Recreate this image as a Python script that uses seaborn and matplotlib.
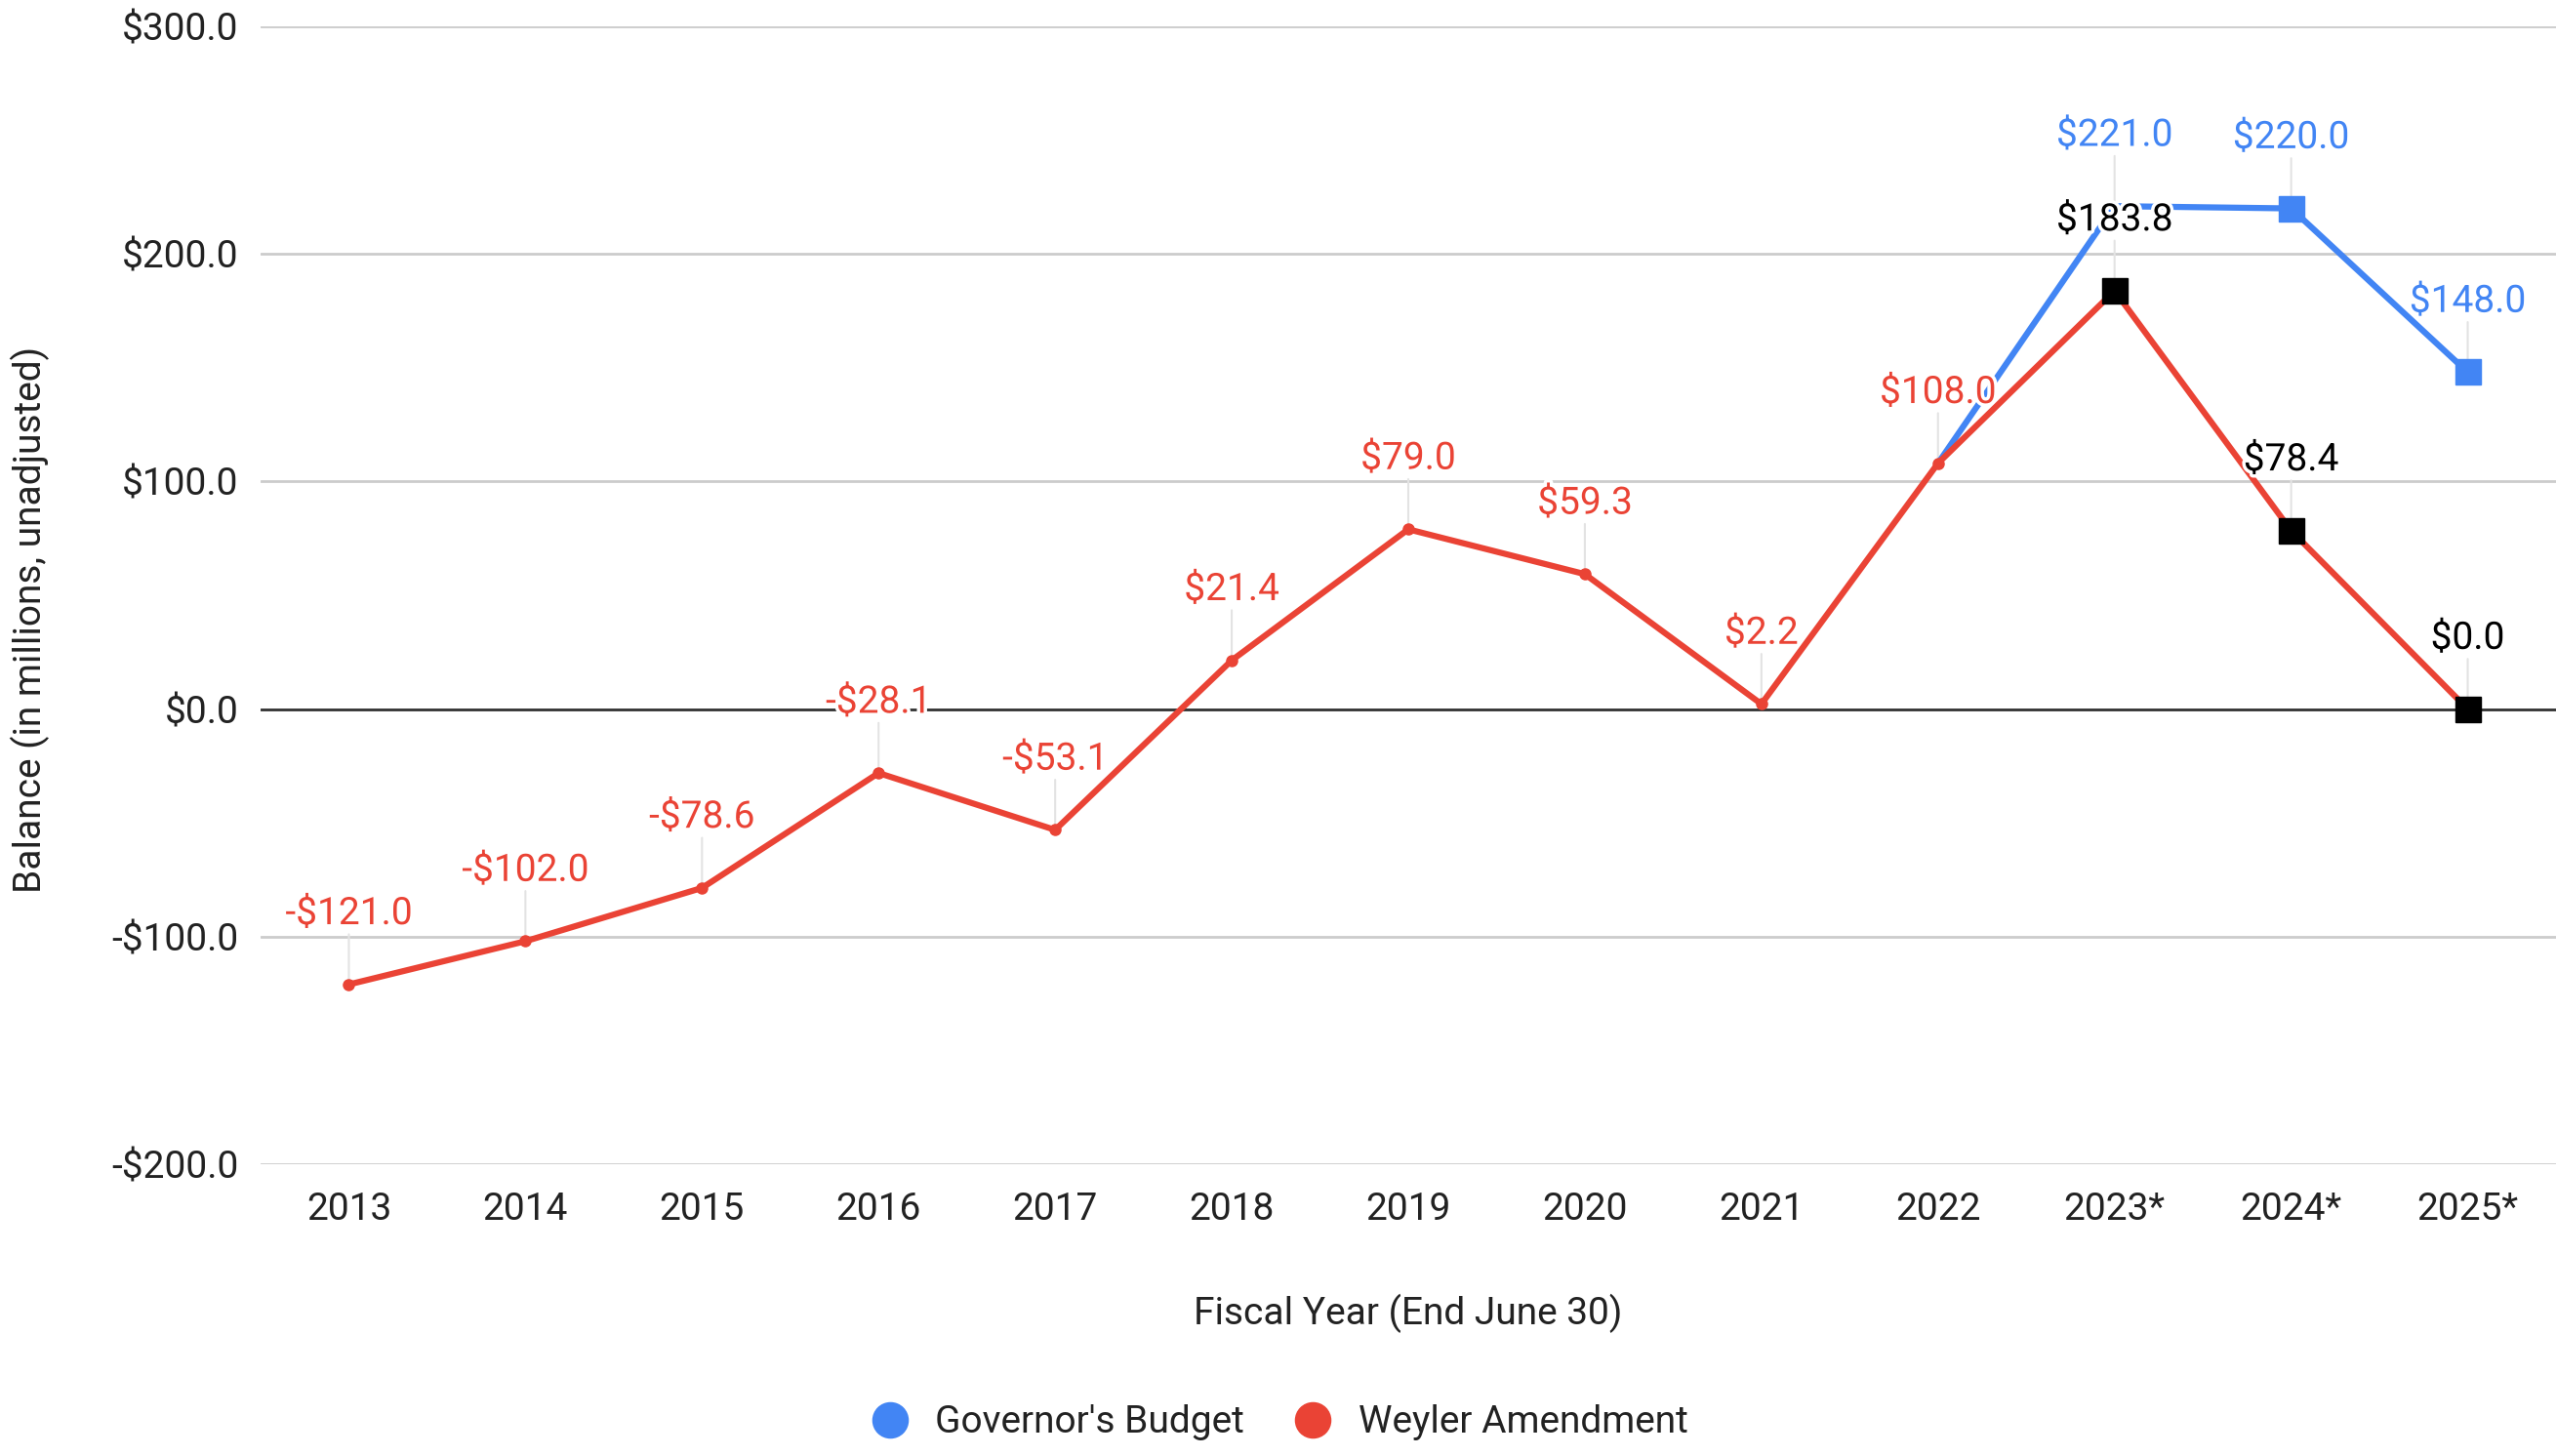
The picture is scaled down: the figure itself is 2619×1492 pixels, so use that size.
import numpy as np
import pandas as pd
import seaborn as sns
import matplotlib.pyplot as plt
import matplotlib.patheffects as pe
from matplotlib.lines import Line2D
from matplotlib.ticker import FuncFormatter

# data
years = ['2013', '2014', '2015', '2016', '2017', '2018', '2019', '2020',
         '2021', '2022', '2023*', '2024*', '2025*']
weyler = [-121.0, -102.0, -78.6, -28.1, -53.1, 21.4, 79.0, 59.3,
          2.2, 108.0, 183.8, 78.4, 0.0]
governor = [np.nan] * 9 + [108.0, 221.0, 220.0, 148.0]
projected = [False] * 10 + [True, True, True]

BLUE = '#4285F4'
RED = '#EA4335'
FS = 28

sns.set_theme(style='white')
plt.rcParams['font.family'] = ['Roboto', 'DejaVu Sans']

pos = np.arange(len(years))
df = pd.DataFrame({
    'pos': np.concatenate([pos, pos]),
    'value': governor + weyler,
    'series': ["Governor's Budget"] * len(years) + ['Weyler Amendment'] * len(years),
})
df = df.dropna()

fig = plt.figure(figsize=(26.19, 14.92), dpi=100)
ax = fig.add_axes([267 / 2619, 1 - 1193 / 1492, 2352 / 2619, 1166 / 1492])

sns.lineplot(data=df, x='pos', y='value', hue='series',
             hue_order=["Governor's Budget", 'Weyler Amendment'],
             palette=[BLUE, RED], linewidth=4.5, legend=False, ax=ax, zorder=3)

# markers
proj = np.array(projected)
w = np.array(weyler)
g = np.array(governor)
ax.plot(pos[~proj], w[~proj], 'o', color=RED, markersize=8, zorder=4)
ax.plot(pos[proj], w[proj], 's', color='black', markersize=19, zorder=5)
blue_sq = proj & (g < 221.0)
ax.plot(pos[blue_sq], g[blue_sq], 's', color=BLUE, markersize=19, zorder=5)


def fmt(v):
    return ('-$%.1f' % abs(v)) if v < 0 else ('$%.1f' % v)


def label(x, y, color):
    ax.annotate('', xy=(x, y), xytext=(0, 37), textcoords='offset points',
                arrowprops=dict(arrowstyle='-', color='#e3e3e3', lw=1.5,
                                shrinkA=0, shrinkB=0), zorder=1)
    ax.annotate(fmt(y), xy=(x, y), xytext=(0, 52), textcoords='offset points',
                ha='center', va='center', color=color, fontsize=FS, zorder=7,
                path_effects=[pe.withStroke(linewidth=5, foreground='white')])


for i in range(len(years)):
    label(pos[i], weyler[i], 'black' if projected[i] else RED)
    if projected[i]:
        label(pos[i], governor[i], BLUE)

ax.set_xlim(-0.5, len(years) - 0.5)
ax.set_ylim(-200, 300)
ax.set_yticks([-200, -100, 0, 100, 200, 300])
ax.yaxis.set_major_formatter(FuncFormatter(lambda v, p: fmt(v)))
ax.set_xticks(pos)
ax.set_xticklabels(years)
ax.tick_params(axis='both', length=0, labelsize=FS, labelcolor='#222222')
ax.tick_params(axis='x', pad=20)
ax.tick_params(axis='y', pad=16)
ax.grid(axis='y', color='#cccccc', linewidth=2)
ax.axhline(0, color='#333333', linewidth=2, zorder=2)
sns.despine(ax=ax, left=True, bottom=True)

ax.set_xlabel('Fiscal Year (End June 30)', fontsize=FS, color='#222222')
ax.set_ylabel('Balance (in millions, unadjusted)', fontsize=FS, color='#222222')
ax.xaxis.set_label_coords(0.5, -0.114)
ax.yaxis.set_label_coords(-0.092, 0.479)

handles = [Line2D([], [], marker='o', linestyle='', color=BLUE, markersize=26),
           Line2D([], [], marker='o', linestyle='', color=RED, markersize=26)]
fig.legend(handles, ["Governor's Budget", 'Weyler Amendment'], loc='center',
           bbox_to_anchor=(0.5006, 0.0228), ncol=2, frameon=False, fontsize=FS,
           handlelength=1.0, handletextpad=0.7, columnspacing=1.3,
           labelcolor='#222222')

plt.savefig('out.png', dpi=100)
